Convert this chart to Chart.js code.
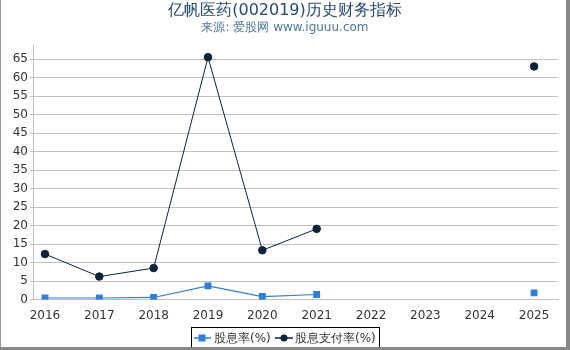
<!DOCTYPE html>
<html><head><meta charset="utf-8">
<script src="https://cdn.jsdelivr.net/npm/chart.js@4.4.1/dist/chart.umd.min.js"></script>
<style>html,body{margin:0;padding:0;background:#fff}#wrap{width:570px;height:350px;position:relative}</style>
</head><body><div id="wrap"><canvas id="c" width="570" height="350"></canvas></div>
<script>
const years = [2016, 2017, 2018, 2019, 2020, 2021, 2022, 2023, 2024, 2025];
const dividendYield = [0.4, 0.4, 0.55, 3.7, 0.8, 1.35, null, null, null, 1.8];
const payoutRatio = [12.3, 6.2, 8.5, 65.5, 13.3, 19.1, null, null, null, 63.0];
const seriesNames = ['股息率(%)', '股息支付率(%)'];
const yTicks = [0, 5, 10, 15, 20, 25, 30, 35, 40, 45, 50, 55, 60, 65];
const titleText = '亿帆医药(002019)历史财务指标';
const subtitleText = '来源: 爱股网 www.iguuu.com';

const FONT = '"DejaVu Sans", sans-serif';
const blue = '#2f7ed8', navy = '#0d233a';

const framePlugin = {
  id: 'frame',
  afterDraw(chart) {
    const ctx = chart.ctx;
    ctx.save();
    ctx.textAlign = 'center'; ctx.textBaseline = 'middle';
    ctx.fillStyle = '#274b6d';
    ctx.font = '16px ' + FONT;
    ctx.fillText(titleText, 285, 11);
    ctx.fillStyle = '#4d759e';
    ctx.font = '12px ' + FONT;
    ctx.fillText(subtitleText, 285, 28);
    // legend
    const lx = 191, ly = 327, lw = 188, lh = 21;
    ctx.strokeStyle = '#000'; ctx.lineWidth = 1;
    ctx.strokeRect(lx + 0.5, ly + 0.5, lw, lh);
    const cy = 338;
    ctx.font = '12px ' + FONT; ctx.textAlign = 'left';
    ctx.strokeStyle = blue; ctx.lineWidth = 1.5;
    ctx.beginPath(); ctx.moveTo(194, cy); ctx.lineTo(211, cy); ctx.stroke();
    ctx.fillStyle = blue; ctx.fillRect(198.5, cy - 3.5, 7, 7);
    ctx.fillStyle = '#333'; ctx.fillText(seriesNames[0], 214, cy + 1);
    ctx.strokeStyle = navy; ctx.lineWidth = 1.5;
    ctx.beginPath(); ctx.moveTo(275, cy); ctx.lineTo(293, cy); ctx.stroke();
    ctx.fillStyle = navy; ctx.beginPath(); ctx.arc(284, cy, 3.5, 0, Math.PI * 2); ctx.fill();
    ctx.fillStyle = '#333'; ctx.fillText(seriesNames[1], 295, cy + 1);
    // frame
    ctx.fillStyle = '#999';
    ctx.fillRect(0, 0, 1, 350);
    ctx.fillStyle = '#888';
    ctx.fillRect(566, 0, 4, 350);
    ctx.fillRect(0, 347, 570, 3);
    ctx.restore();
  }
};

new Chart(document.getElementById('c'), {
  type: 'line',
  data: {
    datasets: [
      { label: seriesNames[0], data: years.map((y, i) => ({ x: y, y: dividendYield[i] })),
        borderColor: blue, backgroundColor: blue, borderWidth: 1.2, pointStyle: 'rect',
        pointRadius: 4, pointHoverRadius: 4, spanGaps: false, order: 2 },
      { label: seriesNames[1], data: years.map((y, i) => ({ x: y, y: payoutRatio[i] })),
        borderColor: navy, backgroundColor: navy, borderWidth: 1, pointStyle: 'circle',
        pointRadius: 3.8, pointHoverRadius: 3.8, spanGaps: false, order: 1 }
    ]
  },
  options: {
    responsive: false, animation: false,
    layout: { padding: { left: 0, right: 12, top: 45, bottom: 28.5 } },
    plugins: { legend: { display: false }, title: { display: false }, tooltip: { enabled: false } },
    scales: {
      x: {
        type: 'linear', min: 2015.78, max: 2025.44,
        afterBuildTicks(s) { s.ticks = years.map(v => ({ value: v })); },
        afterFit(s) { s.height = 22; },
        grid: { display: false, drawTicks: true, tickLength: 4, color: '#c0d0e0' },
        border: { display: true, color: '#c0c0c0', width: 1 },
        ticks: { font: { family: FONT, size: 12 }, color: '#333', padding: 5, maxRotation: 0, autoSkip: false,
          callback: v => String(v) }
      },
      y: {
        min: 0, max: 68.8,
        afterBuildTicks(s) { s.ticks = yTicks.map(v => ({ value: v })); },
        afterFit(s) { s.width = 33; },
        grid: { color: '#c0c0c0', lineWidth: 1, tickLength: 3 },
        border: { display: true, color: '#c0c0c0', width: 1 },
        ticks: { font: { family: FONT, size: 12 }, color: '#333', padding: 2 }
      }
    }
  },
  plugins: [framePlugin]
});
</script></body></html>
